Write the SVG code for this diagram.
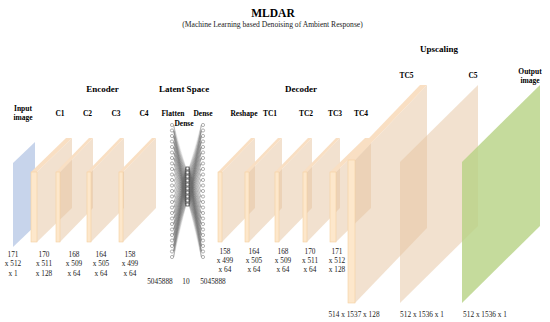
<svg xmlns="http://www.w3.org/2000/svg" xmlns:xlink="http://www.w3.org/1999/xlink" width="550" height="322" viewBox="0 0 550 322">
<style>
text{font-family:"Liberation Serif","Times New Roman",serif;fill:#000}
.t{font-size:11.5px;font-weight:bold;text-anchor:middle}
.sub{font-size:7.6px;text-anchor:middle;fill:#222}
.h{font-size:9px;font-weight:bold;text-anchor:middle}
.l{font-size:7.5px;font-weight:bold;text-anchor:middle}
.d{font-size:7.3px;text-anchor:middle;fill:#222}
.side{fill:#e6c3a0;fill-opacity:.5}
.front{fill:#fde7cb;stroke:#f6cfa0;stroke-width:.6}
.top{fill:#f9dfc3}
.in{fill:#b4c6e4;fill-opacity:.75}
.out{fill:#b6d283;fill-opacity:.8}
.neu{fill:#fff;stroke:#555;stroke-width:.45}
.lat{fill:#fff;stroke:#111;stroke-width:.6}
.w{fill:none;stroke:#666;stroke-width:.3;stroke-opacity:.25;stroke-linejoin:round}
</style>
<defs>
<path id="fan" class="w" vector-effect="non-scaling-stroke" d="M0 125L12.4 168.5 0 130.5 12.4 168.5 0 136 12.4 168.5 0 141.5 12.4 168.5 0 147 12.4 168.5 0 152.5 12.4 168.5 0 158 12.4 168.5 0 163.5 12.4 168.5 0 169 12.4 168.5 0 174.5 12.4 168.5 0 180 12.4 168.5 0 185.5 12.4 168.5 0 191 12.4 168.5 0 196.5 12.4 168.5 0 202 12.4 168.5 0 207.5 12.4 168.5 0 213 12.4 168.5 0 218.5 12.4 168.5 0 224 12.4 168.5 0 229.5 12.4 168.5 0 235 12.4 168.5 0 240.5 12.4 168.5 0 246 12.4 168.5 0 251.5 12.4 168.5 0 257"/>
<g id="col" class="neu">
<circle cy="125" r="1.6"/><circle cy="130.5" r="1.6"/><circle cy="136" r="1.6"/><circle cy="141.5" r="1.6"/><circle cy="147" r="1.6"/><circle cy="152.5" r="1.6"/><circle cy="158" r="1.6"/><circle cy="163.5" r="1.6"/><circle cy="169" r="1.6"/><circle cy="174.5" r="1.6"/><circle cy="180" r="1.6"/><circle cy="185.5" r="1.6"/><circle cy="191" r="1.6"/><circle cy="196.5" r="1.6"/><circle cy="202" r="1.6"/><circle cy="207.5" r="1.6"/><circle cy="213" r="1.6"/><circle cy="218.5" r="1.6"/><circle cy="224" r="1.6"/><circle cy="229.5" r="1.6"/><circle cy="235" r="1.6"/><circle cy="240.5" r="1.6"/><circle cy="246" r="1.6"/><circle cy="251.5" r="1.6"/><circle cy="257" r="1.6"/>
</g>
</defs>

<g id="titles">
<text class="t" x="273" y="16.7">MLDAR</text>
<text class="sub" x="272.5" y="27">(Machine Learning based Denoising of Ambient Response)</text>
<text class="h" x="102.5" y="91.5">Encoder</text>
<text class="h" x="184" y="91.5">Latent Space</text>
<text class="h" x="301" y="91.5">Decoder</text>
<text class="h" x="439" y="52">Upscaling</text>
</g>

<g id="input">
<polygon class="in" points="13,163 35,142 35,226 13,247"/>
<text class="l" x="23"><tspan x="23" y="110.5">Input</tspan><tspan x="23" y="120">image</tspan></text>
<text class="d"><tspan x="13" y="256.5">171</tspan><tspan x="13" y="265.5">x 512</tspan><tspan x="13" y="275.5">x 1</tspan></text>
</g>

<g id="c1">
<polygon class="side" points="37,172 72,138 72,208 37,242"/>
<polygon class="top" points="31,172 37,172 72,138 66,138"/>
<rect class="front" x="31" y="172" width="6" height="70"/>
<text class="l" x="60" y="115.5">C1</text>
<text class="d"><tspan x="44" y="256.5">170</tspan><tspan x="44" y="265.5">x 511</tspan><tspan x="44" y="275.5">x 128</tspan></text>
</g>

<g id="c2">
<polygon class="side" points="60,172 93,138 93,208 60,242"/>
<polygon class="top" points="56,172 60,172 93,138 89,138"/>
<rect class="front" x="56" y="172" width="4" height="70"/>
<text class="l" x="87.5" y="115.5">C2</text>
<text class="d"><tspan x="74" y="256.5">168</tspan><tspan x="74" y="265.5">x 509</tspan><tspan x="74" y="275.5">x 64</tspan></text>
</g>

<g id="c3">
<polygon class="side" points="91,172 124,138 124,208 91,242"/>
<polygon class="top" points="87,172 91,172 124,138 120,138"/>
<rect class="front" x="87" y="172" width="4" height="70"/>
<text class="l" x="116" y="115.5">C3</text>
<text class="d"><tspan x="101" y="256.5">164</tspan><tspan x="101" y="265.5">x 505</tspan><tspan x="101" y="275.5">x 64</tspan></text>
</g>

<g id="c4">
<polygon class="side" points="123,172 156,138 156,208 123,242"/>
<polygon class="top" points="119,172 123,172 156,138 152,138"/>
<rect class="front" x="119" y="172" width="4" height="70"/>
<text class="l" x="144" y="115.5">C4</text>
<text class="d"><tspan x="130" y="256.5">158</tspan><tspan x="130" y="265.5">x 499</tspan><tspan x="130" y="275.5">x 64</tspan></text>
</g>

<g id="connectors">
<use xlink:href="#fan" href="#fan" transform="matrix(1 0 0 1 173.6 0)"/>
<use xlink:href="#fan" href="#fan" transform="matrix(1 .3226 0 1 173.6 0)"/>
<use xlink:href="#fan" href="#fan" transform="matrix(1 .6452 0 1 173.6 0)"/>
<use xlink:href="#fan" href="#fan" transform="matrix(1 .9677 0 1 173.6 0)"/>
<use xlink:href="#fan" href="#fan" transform="matrix(1 1.2903 0 1 173.6 0)"/>
<use xlink:href="#fan" href="#fan" transform="matrix(1 1.6129 0 1 173.6 0)"/>
<use xlink:href="#fan" href="#fan" transform="matrix(1 1.9355 0 1 173.6 0)"/>
<use xlink:href="#fan" href="#fan" transform="matrix(1 2.2581 0 1 173.6 0)"/>
<use xlink:href="#fan" href="#fan" transform="matrix(1 2.5806 0 1 173.6 0)"/>
<use xlink:href="#fan" href="#fan" transform="matrix(1 2.9032 0 1 173.6 0)"/>
<use xlink:href="#fan" href="#fan" transform="matrix(-1 0 0 1 201.4 0)"/>
<use xlink:href="#fan" href="#fan" transform="matrix(-1 .3226 0 1 201.4 0)"/>
<use xlink:href="#fan" href="#fan" transform="matrix(-1 .6452 0 1 201.4 0)"/>
<use xlink:href="#fan" href="#fan" transform="matrix(-1 .9677 0 1 201.4 0)"/>
<use xlink:href="#fan" href="#fan" transform="matrix(-1 1.2903 0 1 201.4 0)"/>
<use xlink:href="#fan" href="#fan" transform="matrix(-1 1.6129 0 1 201.4 0)"/>
<use xlink:href="#fan" href="#fan" transform="matrix(-1 1.9355 0 1 201.4 0)"/>
<use xlink:href="#fan" href="#fan" transform="matrix(-1 2.2581 0 1 201.4 0)"/>
<use xlink:href="#fan" href="#fan" transform="matrix(-1 2.5806 0 1 201.4 0)"/>
<use xlink:href="#fan" href="#fan" transform="matrix(-1 2.9032 0 1 201.4 0)"/>
</g>

<g id="flatten">
<use xlink:href="#col" href="#col" x="172"/>
<text class="l" x="173" y="115.5">Flatten</text>
<text class="d" x="160" y="284">5045888</text>
</g>

<g id="latent">
<g class="lat">
<rect x="186" y="167" width="3" height="3"/><rect x="186" y="171" width="3" height="3"/><rect x="186" y="175" width="3" height="3"/><rect x="186" y="179" width="3" height="3"/><rect x="186" y="183" width="3" height="3"/><rect x="186" y="187" width="3" height="3"/><rect x="186" y="191" width="3" height="3"/><rect x="186" y="195" width="3" height="3"/><rect x="186" y="199" width="3" height="3"/><rect x="186" y="203" width="3" height="3"/>
</g>
<text class="l" x="184" y="126">Dense</text>
<text class="d" x="186" y="284">10</text>
</g>

<g id="dense">
<use xlink:href="#col" href="#col" x="203"/>
<text class="l" x="203" y="115.5">Dense</text>
<text class="d" x="213" y="284">5045888</text>
</g>

<g id="reshape">
<polygon class="side" points="222,172 255,138 255,208 222,242"/>
<polygon class="top" points="218,172 222,172 255,138 251,138"/>
<rect class="front" x="218" y="172" width="4" height="70"/>
<text class="l" x="244" y="115.5">Reshape</text>
<text class="d"><tspan x="225" y="253.5">158</tspan><tspan x="225" y="262.5">x 499</tspan><tspan x="225" y="272">x 64</tspan></text>
</g>

<g id="tc1">
<polygon class="side" points="249,172 282,138 282,208 249,242"/>
<polygon class="top" points="245,172 249,172 282,138 278,138"/>
<rect class="front" x="245" y="172" width="4" height="70"/>
<text class="l" x="270" y="115.5">TC1</text>
<text class="d"><tspan x="254" y="253.5">164</tspan><tspan x="254" y="262.5">x 505</tspan><tspan x="254" y="272">x 64</tspan></text>
</g>

<g id="tc2">
<polygon class="side" points="279,172 312,138 312,208 279,242"/>
<polygon class="top" points="275,172 279,172 312,138 308,138"/>
<rect class="front" x="275" y="172" width="4" height="70"/>
<text class="l" x="306" y="115.5">TC2</text>
<text class="d"><tspan x="283" y="253.5">168</tspan><tspan x="283" y="262.5">x 509</tspan><tspan x="283" y="272">x 64</tspan></text>
</g>

<g id="tc3">
<polygon class="side" points="307,172 340,138 340,208 307,242"/>
<polygon class="top" points="303,172 307,172 340,138 336,138"/>
<rect class="front" x="303" y="172" width="4" height="70"/>
<text class="l" x="335" y="115.5">TC3</text>
<text class="d"><tspan x="310" y="253.5">170</tspan><tspan x="310" y="262.5">x 511</tspan><tspan x="310" y="272">x 64</tspan></text>
</g>

<g id="tc4">
<polygon class="side" points="336,172 371,138 371,208 336,242"/>
<polygon class="top" points="330,172 336,172 371,138 365,138"/>
<rect class="front" x="330" y="172" width="6" height="70"/>
<text class="l" x="361" y="115.5">TC4</text>
<text class="d"><tspan x="337" y="253.5">171</tspan><tspan x="337" y="262.5">x 512</tspan><tspan x="337" y="272">x 128</tspan></text>
</g>

<g id="tc5">
<polygon class="side" points="355,160 427,85 427,228 355,303"/>
<polygon class="top" points="348,160 355,160 427,85 420,85"/>
<rect class="front" x="348" y="160" width="7" height="143"/>
<text class="l" x="406.5" y="77.5">TC5</text>
<text class="d" x="354" y="317">514 x 1537 x 128</text>
</g>

<g id="c5">
<polygon class="side" points="400,162 478,85 478,226 400,303"/>
<text class="l" x="473" y="77.5">C5</text>
<text class="d" x="422" y="317">512 x 1536 x 1</text>
</g>

<g id="output">
<polygon class="out" points="462,162 540,85 540,226 462,303"/>
<text class="l"><tspan x="530" y="74.3">Output</tspan><tspan x="530" y="82.8">image</tspan></text>
<text class="d" x="485" y="317">512 x 1536 x 1</text>
</g>
</svg>
